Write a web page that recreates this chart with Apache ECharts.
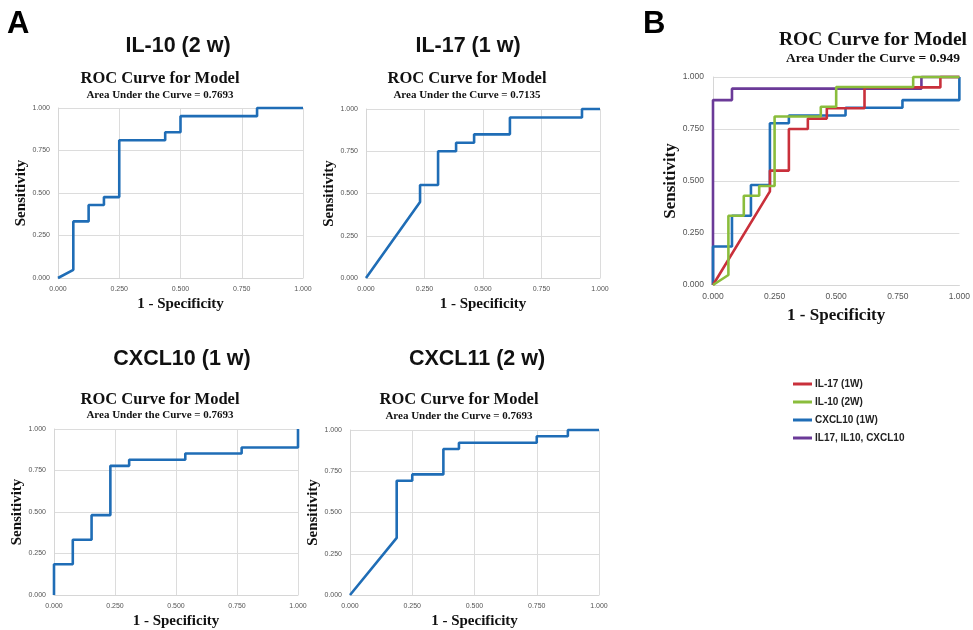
<!DOCTYPE html>
<html>
<head>
<meta charset="utf-8">
<script src="https://cdn.jsdelivr.net/npm/echarts@6/dist/echarts.min.js"></script>
<style>
  html, body { margin: 0; padding: 0; background: #fff; }
  #chart { width: 973px; height: 630px; }
</style>
</head>
<body>
<div id="chart"></div>
<script>
// ROC curve points (1 - specificity, sensitivity)
const il10_x = [0, 0.0625, 0.0625, 0.125, 0.125, 0.1875, 0.1875, 0.25, 0.25, 0.4375, 0.4375, 0.5, 0.5, 0.8125, 0.8125, 1];
const il10_y = [0, 0.048, 0.333, 0.333, 0.429, 0.429, 0.476, 0.476, 0.81, 0.81, 0.857, 0.857, 0.952, 0.952, 1, 1];

const il17_x = [0, 0.231, 0.231, 0.308, 0.308, 0.385, 0.385, 0.462, 0.462, 0.615, 0.615, 0.923, 0.923, 1];
const il17_y = [0, 0.45, 0.55, 0.55, 0.75, 0.75, 0.8, 0.8, 0.85, 0.85, 0.95, 0.95, 1, 1];

const cxcl10_x = [0, 0, 0.077, 0.077, 0.154, 0.154, 0.231, 0.231, 0.308, 0.308, 0.538, 0.538, 0.769, 0.769, 1, 1];
const cxcl10_y = [0, 0.185, 0.185, 0.333, 0.333, 0.481, 0.481, 0.778, 0.778, 0.815, 0.815, 0.852, 0.852, 0.889, 0.889, 1];

const cxcl11_x = [0, 0.1875, 0.1875, 0.25, 0.25, 0.375, 0.375, 0.4375, 0.4375, 0.75, 0.75, 0.875, 0.875, 1];
const cxcl11_y = [0, 0.346, 0.692, 0.692, 0.731, 0.731, 0.885, 0.885, 0.923, 0.923, 0.962, 0.962, 1, 1];

const combo_x = [0, 0, 0.077, 0.077, 0.846, 0.846, 1];
const combo_y = [0, 0.889, 0.889, 0.944, 0.944, 1, 1];

const panel_headers = ['IL-10 (2 w)', 'IL-17 (1 w)', 'CXCL10 (1 w)', 'CXCL11 (2 w)'];
const auc_text = ['0.7693', '0.7135', '0.7693', '0.7693', '0.949'];
const legend_names = ['IL-17 (1W)', 'IL-10 (2W)', 'CXCL10 (1W)', 'IL17, IL10, CXCL10'];

const BLUE = '#1f6db6';
const RED = '#c9303b';
const GREEN = '#8abd3c';
const PURPLE = '#6b3a98';

function pairs(xs, ys) {
    return xs.map((x, i) => [x, ys[i]]);
}

const serif = '"Liberation Serif", "Times New Roman", serif';
const sans = '"Liberation Sans", Arial, sans-serif';

// grids: panels A1..A4, then B
const grids = [
    { left: 58, top: 108, width: 245, height: 170 },
    { left: 366, top: 109, width: 234, height: 169 },
    { left: 54, top: 429, width: 244, height: 167 },
    { left: 350, top: 430, width: 249, height: 168 },
    { left: 713, top: 77, width: 247, height: 208 }
];

const xAxes = [], yAxes = [];
grids.forEach((g, i) => {
    const big = (i === 4);
    xAxes.push({
        type: 'value', gridIndex: i, min: 0, max: 1, interval: 0.25,
        name: '1 - Specificity', nameLocation: 'middle', nameGap: big ? 22 : 19,
        nameTextStyle: { fontFamily: serif, fontWeight: 'bold', fontSize: big ? 17 : 15, color: '#111' },
        axisLine: { show: true, lineStyle: { color: '#d6d6d6', width: 1 } },
        axisTick: { show: false },
        axisLabel: { formatter: v => v.toFixed(3), fontSize: big ? 8.5 : 7, color: '#555', margin: big ? 7 : 8, fontFamily: sans },
        splitLine: { show: !big, lineStyle: { color: '#dcdcdc', width: 1 } }
    });
    yAxes.push({
        type: 'value', gridIndex: i, min: 0, max: 1, interval: 0.25,
        name: 'Sensitivity', nameLocation: 'middle', nameGap: big ? 30 : 28, nameRotate: 90,
        nameTextStyle: { fontFamily: serif, fontWeight: 'bold', fontSize: big ? 17 : 15, color: '#111' },
        axisLine: { show: true, lineStyle: { color: '#d6d6d6', width: 1 } },
        axisTick: { show: false },
        axisLabel: { formatter: v => v.toFixed(3), fontSize: big ? 8.5 : 7, color: '#555', margin: big ? 9 : 8, fontFamily: sans },
        splitLine: { show: true, lineStyle: { color: '#dcdcdc', width: 1 } }
    });
});

function curve(name, idx, xs, ys, color) {
    return {
        name: name, type: 'line', xAxisIndex: idx, yAxisIndex: idx,
        data: pairs(xs, ys), symbol: 'none', clip: false,
        lineStyle: { color: color, width: 2.6 }, itemStyle: { color: color },
        animation: false
    };
}

const series = [
    curve('a1', 0, il10_x, il10_y, BLUE),
    curve('a2', 1, il17_x, il17_y, BLUE),
    curve('a3', 2, cxcl10_x, cxcl10_y, BLUE),
    curve('a4', 3, cxcl11_x, cxcl11_y, BLUE),
    curve(legend_names[3], 4, combo_x, combo_y, PURPLE),
    curve(legend_names[2], 4, cxcl10_x, cxcl10_y, BLUE),
    curve(legend_names[0], 4, il17_x, il17_y, RED),
    curve(legend_names[1], 4, il10_x, il10_y, GREEN)
];

// text centres [x, y] above each panel
const header_pos = [[178, 46], [468, 46], [182, 359], [477, 359]];
const title_pos = [[160, 79, 95], [467, 79, 95], [160, 400, 415], [459, 400, 416], [873, 40, 59]];

function centred(text, x, y, size, family) {
    return {
        text: text, left: x, top: y - size / 2, textAlign: 'center', padding: 0,
        textStyle: { fontFamily: family, fontWeight: 'bold', fontSize: size, color: '#111', lineHeight: size }
    };
}

const titles = [];
panel_headers.forEach((t, i) => {
    titles.push(centred(t, header_pos[i][0], header_pos[i][1], 21.5, sans));
});
title_pos.forEach((p, i) => {
    const big = (i === 4);
    titles.push(centred('ROC Curve for Model', p[0], p[1], big ? 19.5 : 16.5, serif));
    titles.push(centred('Area Under the Curve = ' + auc_text[i], p[0], p[2], big ? 13.5 : 11, serif));
});
titles.push({ text: 'A', left: 7, top: 9, padding: 0, textStyle: { fontFamily: sans, fontWeight: 'bold', fontSize: 31, color: '#000' } });
titles.push({ text: 'B', left: 643, top: 9, padding: 0, textStyle: { fontFamily: sans, fontWeight: 'bold', fontSize: 31, color: '#000' } });

const myChart = echarts.init(document.getElementById('chart'), null, { renderer: 'canvas' });
const option = {
    backgroundColor: '#fff',
    animation: false,
    title: titles,
    grid: grids,
    xAxis: xAxes,
    yAxis: yAxes,
    legend: {
        data: legend_names,
        orient: 'vertical',
        left: 788, top: 373,
        icon: 'rect',
        itemWidth: 19, itemHeight: 3, itemGap: 6,
        textStyle: { fontFamily: sans, fontWeight: 'bold', fontSize: 10, color: '#222', lineHeight: 12, padding: [0, 0, 0, -2] },
        selectedMode: false
    },
    series: series
};
myChart.setOption(option);
</script>
</body>
</html>
